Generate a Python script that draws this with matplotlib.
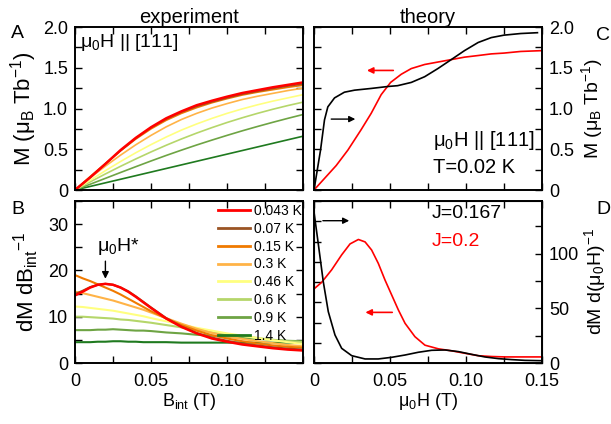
import numpy as np
import matplotlib
matplotlib.use('Agg')
import matplotlib.pyplot as plt
from matplotlib.ticker import MultipleLocator, FuncFormatter

plt.rcParams['font.family'] = ['Liberation Sans', 'DejaVu Sans']
plt.rcParams['mathtext.fontset'] = 'custom'
plt.rcParams['mathtext.rm'] = 'Liberation Sans'
plt.rcParams['mathtext.default'] = 'regular'
plt.rcParams['font.size'] = 13

# ---- experiment: dM/dB_int vs B_int (panel B) ----
temps = ['0.043 K', '0.07 K', '0.15 K', '0.3 K', '0.46 K', '0.6 K', '0.9 K', '1.4 K']
colors = ['#ff0000', '#9a5424', '#f07a00', '#ffb347', '#ffff80', '#b5d66a', '#6ea444', '#1f7a1f']

b_int = [0, 0.005, 0.01, 0.015, 0.02, 0.025, 0.03, 0.035, 0.04, 0.045, 0.05,
         0.06, 0.07, 0.08, 0.09, 0.10, 0.11, 0.12, 0.13, 0.14, 0.15]
dm_043 = [14.6, 15.4, 16.3, 16.9, 17.1, 16.9, 16.3, 15.4, 14.3, 13.1, 11.9,
          9.6, 7.8, 6.4, 5.3, 4.6, 4.0, 3.6, 3.2, 2.9, 2.7]
dm_07 = [14.9, 15.6, 16.4, 16.9, 17.1, 16.9, 16.3, 15.5, 14.4, 13.2, 12.0,
         9.7, 7.9, 6.5, 5.5, 4.8, 4.2, 3.8, 3.4, 3.1, 2.9]
dm_15 = [19.0, 18.3, 17.7, 17.0, 16.3, 15.6, 14.8, 13.9, 13.0, 12.1, 11.2,
         9.6, 8.2, 7.0, 6.0, 5.3, 4.7, 4.2, 3.8, 3.5, 3.3]
dm_3 = [15.4, 15.1, 14.7, 14.3, 13.9, 13.5, 13.0, 12.5, 12.0, 11.5, 10.9,
        9.7, 8.5, 7.4, 6.5, 5.8, 5.2, 4.7, 4.3, 3.9, 3.6]
dm_46 = [12.2, 12.1, 11.9, 11.7, 11.5, 11.3, 11.0, 10.7, 10.4, 10.1, 9.7,
         9.0, 8.3, 7.6, 7.0, 6.4, 5.9, 5.4, 4.9, 4.5, 4.1]
dm_6 = [10.0, 10.0, 9.9, 9.8, 9.7, 9.6, 9.4, 9.3, 9.1, 8.9, 8.7,
        8.2, 7.7, 7.2, 6.7, 6.2, 5.8, 5.4, 5.0, 4.7, 4.5]
dm_9 = [7.1, 7.1, 7.1, 7.2, 7.2, 7.3, 7.2, 7.1, 7.0, 7.0, 6.9,
        6.6, 6.4, 6.1, 5.9, 5.7, 5.4, 5.2, 5.0, 4.8, 4.7]
dm_14 = [4.5, 4.5, 4.5, 4.6, 4.6, 4.7, 4.7, 4.6, 4.6, 4.5, 4.5,
         4.5, 4.4, 4.4, 4.4, 4.4, 4.4, 4.4, 4.4, 4.4, 4.3]
dm_all = [dm_043, dm_07, dm_15, dm_3, dm_46, dm_6, dm_9, dm_14]

# ---- experiment: M vs field (panel A) ----
h_exp = [0, 0.01, 0.02, 0.03, 0.04, 0.05, 0.06, 0.07, 0.08, 0.09, 0.10,
         0.11, 0.12, 0.13, 0.14, 0.15]
m_043 = [0, 0.155, 0.32, 0.49, 0.64, 0.77, 0.88, 0.965, 1.04, 1.095, 1.145,
         1.19, 1.225, 1.26, 1.29, 1.32]
m_07 = [0, 0.155, 0.32, 0.485, 0.635, 0.765, 0.87, 0.955, 1.025, 1.08, 1.13,
        1.175, 1.21, 1.245, 1.275, 1.30]
m_15 = [0, 0.165, 0.325, 0.48, 0.625, 0.75, 0.855, 0.94, 1.01, 1.07, 1.12,
        1.165, 1.20, 1.23, 1.26, 1.285]
m_3 = [0, 0.15, 0.293, 0.428, 0.555, 0.67, 0.775, 0.865, 0.94, 1.005, 1.06,
       1.11, 1.15, 1.185, 1.22, 1.25]
m_46 = [0, 0.12, 0.237, 0.35, 0.457, 0.557, 0.65, 0.735, 0.81, 0.878, 0.94,
        0.995, 1.045, 1.09, 1.13, 1.17]
m_6 = [0, 0.10, 0.197, 0.291, 0.381, 0.467, 0.549, 0.626, 0.698, 0.765, 0.828,
       0.886, 0.94, 0.99, 1.036, 1.078]
m_9 = [0, 0.071, 0.143, 0.215, 0.286, 0.356, 0.424, 0.489, 0.552, 0.612, 0.67,
       0.726, 0.779, 0.83, 0.879, 0.926]
m_14 = [0, 0.044, 0.088, 0.132, 0.176, 0.22, 0.264, 0.308, 0.352, 0.396, 0.44,
        0.484, 0.528, 0.572, 0.616, 0.66]
m_all = [m_043, m_07, m_15, m_3, m_46, m_6, m_9, m_14]

# ---- theory: M vs mu0H (panel C) ----
h_blk = [0, 0.0043, 0.0069, 0.0091, 0.0135, 0.020, 0.0267, 0.0376, 0.0486, 0.055,
         0.064, 0.0728, 0.0815, 0.0903, 0.099, 0.108, 0.1166, 0.125, 0.136, 0.147]
m_blk = [0, 0.49, 0.86, 1.02, 1.13, 1.20, 1.225, 1.246, 1.27, 1.28,
         1.32, 1.39, 1.49, 1.60, 1.71, 1.81, 1.87, 1.90, 1.92, 1.93]
h_red = [0, 0.0146, 0.0223, 0.031, 0.0376, 0.0442, 0.0504, 0.0574, 0.064, 0.0728,
         0.0815, 0.0903, 0.099, 0.108, 0.1166, 0.125, 0.136, 0.15]
m_red = [0, 0.30, 0.49, 0.74, 0.94, 1.17, 1.32, 1.42, 1.49, 1.54,
         1.57, 1.60, 1.63, 1.65, 1.67, 1.68, 1.70, 1.71]

# ---- theory: dM/d(mu0H) (panel D) ----
hd_red = [0, 0.005, 0.0116, 0.0182, 0.0237, 0.0292, 0.0336, 0.0379, 0.0423, 0.0467,
          0.0511, 0.0555, 0.0599, 0.0664, 0.073, 0.0818, 0.0906, 0.0993, 0.108,
          0.1169, 0.1257, 0.15]
dd_red = [18.3, 19.9, 23.0, 26.7, 29.4, 30.5, 29.9, 27.9, 24.6, 20.5,
          16.8, 13.1, 9.8, 6.5, 4.4, 3.5, 3.0, 2.4, 1.8,
          1.6, 1.5, 1.5]
hd_blk = [0, 0.0029, 0.0061, 0.0094, 0.0138, 0.0182, 0.0248, 0.0336, 0.0423, 0.0511,
          0.0599, 0.0686, 0.0774, 0.0862, 0.095, 0.1037, 0.1125, 0.1213, 0.13,
          0.1388, 0.15]
dd_blk = [138, 108, 74.3, 46.9, 25.6, 13.4, 6.7, 3.7, 3.7, 5.2,
          7.3, 9.8, 11.6, 11.9, 10.4, 7.9, 5.5, 4.0, 3.1,
          2.4, 2.1]

fig = plt.figure(figsize=(6.11, 4.24), dpi=100)
W, H = 611.0, 424.0


def box(l, t, r, b):
    return [l / W, 1 - b / H, (r - l) / W, (b - t) / H]


axA = fig.add_axes(box(75, 27, 303, 190))
axB = fig.add_axes(box(75, 201, 303, 363))
axC = fig.add_axes(box(314, 27, 542, 190))
axD = fig.add_axes(box(314, 201, 542, 363))


def style(ax):
    for s in ax.spines.values():
        s.set_linewidth(1.4)
    ax.tick_params(which='both', direction='in', top=True, right=True,
                   length=5, width=1.0, pad=5)
    ax.tick_params(axis='x', pad=7)


fmt = FuncFormatter(lambda v, p: '0' if abs(v) < 1e-9 else ('%.1f' % v))
xfmt = FuncFormatter(lambda v, p: '0' if abs(v) < 1e-9 else ('%.2f' % v))

# panel A
for i in range(len(temps) - 1, -1, -1):
    lw = 1.8 if i == 0 else 1.2
    axA.plot(h_exp, m_all[i], color=colors[i], lw=lw)
axA.set_xlim(0, 0.15)
axA.set_ylim(0, 2.0)
axA.xaxis.set_major_locator(MultipleLocator(0.025))
axA.yaxis.set_major_locator(MultipleLocator(0.5))
axA.yaxis.set_minor_locator(MultipleLocator(0.25))
axA.yaxis.set_major_formatter(fmt)
axA.set_xticklabels([])
style(axA)
axA.set_ylabel(r'M ($\mu_B$ Tb$^{-1}$)', fontsize=16, labelpad=3)
axA.text(0.02, 0.97, r'$\mu_0$H || [111]', transform=axA.transAxes,
         ha='left', va='top', fontsize=14)
axA.set_title('experiment', fontsize=14.5, pad=3)

# panel B
lines = []
for i in range(len(temps) - 1, -1, -1):
    lw = 1.8 if i == 0 else 1.5
    ln, = axB.plot(b_int, dm_all[i], color=colors[i], lw=lw, label=temps[i])
    lines.append(ln)
lines = lines[::-1]
axB.set_xlim(0, 0.15)
axB.set_ylim(0, 35)
axB.xaxis.set_major_locator(MultipleLocator(0.05))
axB.xaxis.set_minor_locator(MultipleLocator(0.025))
axB.xaxis.set_major_formatter(FuncFormatter(
    lambda v, p: '' if v > 0.12 else ('0' if abs(v) < 1e-9 else '%.2f' % v)))
axB.yaxis.set_major_locator(MultipleLocator(10))
axB.yaxis.set_minor_locator(MultipleLocator(5))
style(axB)
axB.set_xlabel(r'$B_{int}$ (T)', labelpad=1)
axB.set_ylabel(r'dM d$B_{int}$$^{-1}$', fontsize=16, labelpad=5)
leg = axB.legend(lines, temps, loc='upper left', bbox_to_anchor=(0.615, 1.0),
                 frameon=False, fontsize=10, handlelength=2.3, handletextpad=0.3,
                 labelspacing=0.28, borderpad=0.2, borderaxespad=0)
for h in leg.get_lines():
    h.set_linewidth(2.0)
axB.annotate('', xy=(0.02, 17.6), xytext=(0.02, 22.6),
             arrowprops=dict(arrowstyle='-|>', color='black', lw=1.0,
                             mutation_scale=10))
axB.text(0.0145, 22.8, r'$\mu_0$H*', ha='left', va='bottom', fontsize=14)

# panel C
axC.plot(h_red, m_red, color='#ff0000', lw=1.2)
axC.plot(h_blk, m_blk, color='black', lw=1.2)
axC.set_xlim(0, 0.15)
axC.set_ylim(0, 2.0)
axC.xaxis.set_major_locator(MultipleLocator(0.025))
axC.yaxis.set_major_locator(MultipleLocator(0.5))
axC.yaxis.set_minor_locator(MultipleLocator(0.25))
axC.yaxis.set_major_formatter(fmt)
axC.set_xticklabels([])
style(axC)
axC.tick_params(labelleft=False, labelright=True)
axC.yaxis.set_label_position('right')
axC.set_ylabel(r'M ($\mu_B$ Tb$^{-1}$)', fontsize=14, labelpad=4)
axC.set_title('theory', fontsize=14.5, pad=3)
axC.text(0.523, 0.305, r'$\mu_0$H || [111]', transform=axC.transAxes,
         ha='left', va='center', fontsize=14.5)
axC.text(0.523, 0.14, 'T=0.02 K', transform=axC.transAxes,
         ha='left', va='center', fontsize=14.5)
axC.annotate('', xy=(0.033, 1.467), xytext=(0.054, 1.467),
             arrowprops=dict(arrowstyle='-|>', color='#ff0000', lw=1.2,
                             mutation_scale=9))
axC.annotate('', xy=(0.029, 0.87), xytext=(0.0095, 0.87),
             arrowprops=dict(arrowstyle='-|>', color='black', lw=1.0,
                             mutation_scale=9))

# panel D
axD2 = axD.twinx()
axD.plot(hd_red, dd_red, color='#ff0000', lw=1.2)
axD2.plot(hd_blk, dd_blk, color='black', lw=1.2)
axD.set_xlim(0, 0.15)
axD.set_ylim(0, 40)
axD2.set_ylim(0, 148)
axD.xaxis.set_major_locator(MultipleLocator(0.05))
axD.xaxis.set_minor_locator(MultipleLocator(0.025))
axD.xaxis.set_major_formatter(xfmt)
axD.yaxis.set_major_locator(MultipleLocator(5))
axD2.yaxis.set_major_locator(MultipleLocator(50))
axD2.yaxis.set_minor_locator(MultipleLocator(25))
for s in axD.spines.values():
    s.set_linewidth(1.4)
axD.tick_params(which='both', direction='in', top=True, right=False,
                length=5, width=1.0, pad=7, labelleft=False)
axD2.tick_params(which='both', direction='in', length=5, width=1.0, pad=5)
axD2.set_ylabel(r'dM d($\mu_0$H)$^{-1}$', fontsize=14, labelpad=2)
axD.set_xlabel(r'$\mu_0$H (T)', labelpad=1)
axD.text(0.515, 0.92, 'J=0.167', transform=axD.transAxes, ha='left', va='center',
         color='black', fontsize=14)
axD.text(0.515, 0.75, 'J=0.2', transform=axD.transAxes, ha='left', va='center',
         color='#ff0000', fontsize=14)
axD.annotate('', xy=(0.032, 12.5), xytext=(0.0533, 12.5),
             arrowprops=dict(arrowstyle='-|>', color='#ff0000', lw=1.2,
                             mutation_scale=9))
axD2.annotate('', xy=(0.025, 130), xytext=(0.004, 130),
              arrowprops=dict(arrowstyle='-|>', color='black', lw=1.0,
                              mutation_scale=9))

# panel letters
for lab, (px, py) in zip('ABCD', [(17, 34), (18, 209), (603, 35), (603, 210)]):
    fig.text(px / W, 1 - py / H, lab, ha='center', va='center', fontsize=14)

fig.savefig('out.png', dpi=100)
